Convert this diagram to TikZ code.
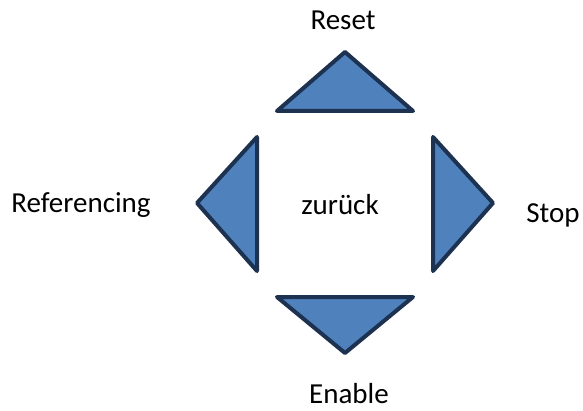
\documentclass[tikz,border=0pt]{standalone}
\usepackage{fontspec}
\setmainfont{Carlito}
\definecolor{triFill}{HTML}{4F81BD}
\definecolor{triLine}{HTML}{1C3250}
\begin{document}
\begin{tikzpicture}[x=1pt,y=1pt,
  tri/.style={fill=triFill,draw=triLine,line width=4pt,line join=round},
  lbl/.style={anchor=base,inner sep=0pt,font=\fontsize{29}{35}\selectfont}]
\useasboundingbox[fill=white] (0,0) rectangle (583,410);
% top
\coordinate (tA) at (345,358);
\coordinate (tL) at (277,299);
\coordinate (tR) at (413,299);
\draw[tri] (tA) -- (tR) -- (tL) -- cycle;
% bottom
\coordinate (bA) at (345,57);
\coordinate (bL) at (277,113);
\coordinate (bR) at (413,113);
\draw[tri] (bA) -- (bR) -- (bL) -- cycle;
% left
\coordinate (lA) at (197,207);
\coordinate (lT) at (257,273);
\coordinate (lB) at (257,139);
\draw[tri] (lA) -- (lT) -- (lB) -- cycle;
% right
\coordinate (rA) at (493,207);
\coordinate (rT) at (433,273);
\coordinate (rB) at (433,139);
\draw[tri] (rA) -- (rT) -- (rB) -- cycle;
% labels
\node[lbl] (reset) at (343,380) {Reset};
\node[lbl] (ref) at (81,197) {Referencing};
\node[lbl] (stop) at (553,188) {Stop};
\node[lbl] (enable) at (349,7) {Enable};
\node[lbl] (back) at (340,196) {zurück};
\end{tikzpicture}
\end{document}
